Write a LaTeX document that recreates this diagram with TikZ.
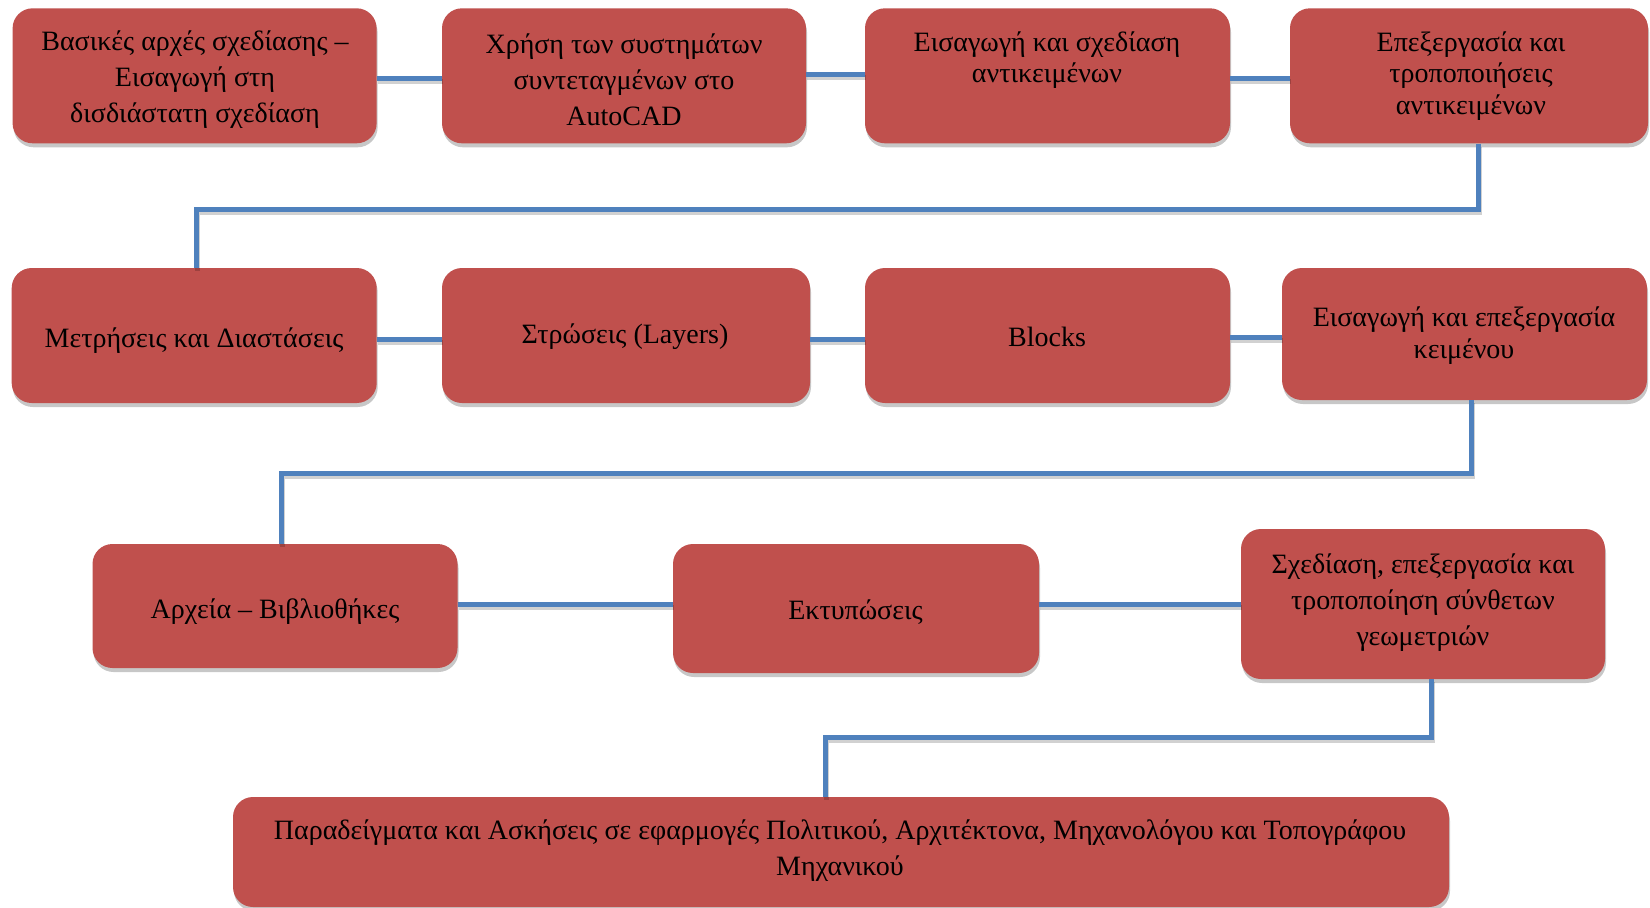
\documentclass[tikz,border=0pt]{standalone}
\usepackage{fontspec}
\setmainfont{Liberation Serif}
\usetikzlibrary{shadows,calc}
\definecolor{boxred}{HTML}{C0504D}
\definecolor{linkblue}{HTML}{4F81BD}
\tikzset{
  box/.style={rectangle, rounded corners=20pt, fill=boxred, draw=none, inner sep=0pt,
    drop shadow={shadow xshift=1pt, shadow yshift=-4pt, opacity=0.22, fill=black}},
  lbl/.style={align=center, font=\fontsize{28}{36}\selectfont, text=black, inner sep=0pt, yshift=-2pt},
  lbltight/.style={lbl, font=\fontsize{28}{31.6}\selectfont},
  conn/.style={draw=linkblue, line width=5pt,
    preaction={draw=black, opacity=0.18, line width=5pt, transform canvas={xshift=1pt,yshift=-3pt}}},
}
\begin{document}
\begin{tikzpicture}[x=1pt,y=-1pt]
\useasboundingbox[fill=white] (0,0) rectangle (1650,908);
% boxes
\node[box, minimum width=364pt, minimum height=135pt] (b1) at (194.6,75.8) {};
\node[box, minimum width=364pt, minimum height=135pt] (b2) at (624,75.8) {};
\node[box, minimum width=365pt, minimum height=135pt] (b3) at (1047.5,75.8) {};
\node[box, minimum width=358pt, minimum height=135pt] (b4) at (1469,75.8) {};
\node[box, minimum width=365pt, minimum height=135pt] (b5) at (194.2,335.5) {};
\node[box, minimum width=368pt, minimum height=135pt] (b6) at (626,335.5) {};
\node[box, minimum width=365pt, minimum height=135pt] (b7) at (1047.5,335.5) {};
\node[box, minimum width=365pt, minimum height=132pt] (b8) at (1464.5,334) {};
\node[box, minimum width=365pt, minimum height=124pt] (b9) at (275,606) {};
\node[box, minimum width=366pt, minimum height=129pt] (b10) at (856,608.5) {};
\node[box, minimum width=364pt, minimum height=150pt] (b11) at (1423,604) {};
\node[box, minimum width=1216pt, minimum height=110pt] (b12) at (841,852) {};
% texts
\node[lbl] (t1) at (195,78) {Βασικές αρχές σχεδίασης –\\Εισαγωγή στη\\δισδιάστατη σχεδίαση};
\node[lbl] (t2) at (624,78) {Χρήση των συστημάτων\\συντεταγμένων στο\\AutoCAD};
\node[lbltight] (t3) at (1047,58) {Εισαγωγή και σχεδίαση\\αντικειμένων};
\node[lbltight] (t4) at (1471,74) {Επεξεργασία και\\τροποποιήσεις\\αντικειμένων};
\node[lbl] (t5) at (194,339) {Μετρήσεις και Διαστάσεις};
\node[lbl] (t6) at (625,334.6) {Στρώσεις (Layers)};
\node[lbl] (t7) at (1047,334.6) {Blocks};
\node[lbltight] (t8) at (1464,333.6) {Εισαγωγή και επεξεργασία\\κειμένου};
\node[lbl] (t9) at (275,610) {Αρχεία – Βιβλιοθήκες};
\node[lbl] (t10) at (855.5,610) {Εκτυπώσεις};
\node[lbl] (t11) at (1423,601) {Σχεδίαση, επεξεργασία και\\τροποποίηση σύνθετων\\γεωμετριών};
\node[lbl] (t12) at (840,848.7) {Παραδείγματα και Ασκήσεις σε εφαρμογές Πολιτικού, Αρχιτέκτονα, Μηχανολόγου και Τοπογράφου\\Μηχανικού};
% turn points
\coordinate (k1) at (196,209);
\coordinate (k2) at (281,473.5);
\coordinate (k3) at (825,737);
% connectors
\draw[conn] (b1.east |- 0,78) -- (b2.west |- 0,78);
\draw[conn] (b2.east |- 0,74) -- (b3.west |- 0,74);
\draw[conn] (b3.east |- 0,78) -- (b4.west |- 0,78);
\draw[conn] (b4.south -| 1478,0) |- (k1) -- (k1 |- b5.north);
\draw[conn] (b5.east |- 0,339) -- (b6.west |- 0,339);
\draw[conn] (b6.east |- 0,339) -- (b7.west |- 0,339);
\draw[conn] (b7.east |- 0,337) -- (b8.west |- 0,337);
\draw[conn] (b8.south -| 1471,0) |- (k2) -- (k2 |- b9.north);
\draw[conn] (b9.east |- 0,604) -- (b10.west |- 0,604);
\draw[conn] (b10.east |- 0,604) -- (b11.west |- 0,604);
\draw[conn] (b11.south -| 1431,0) |- (k3) -- (k3 |- b12.north);
\end{tikzpicture}
\end{document}
